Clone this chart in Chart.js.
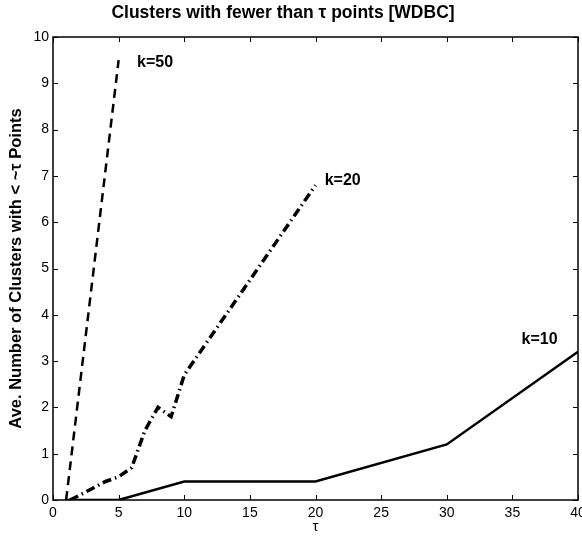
<!DOCTYPE html>
<html>
<head>
<meta charset="utf-8">
<script src="https://cdn.jsdelivr.net/npm/chart.js@4"></script>
<style>
  html, body { margin: 0; padding: 0; background: #fff; }
  #wrap { width: 582px; height: 536px; }
</style>
</head>
<body>
<div id="wrap"><canvas id="c" width="582" height="536"></canvas></div>
<script>
// tau values and average number of small clusters for each k
const tau10 = [1, 5, 10, 20, 30, 40];
const k10 = [0, 0, 0.4, 0.4, 1.2, 3.2];

const tau20 = [1.3, 2, 3, 4, 5, 6, 7, 8, 9, 10, 20];
const k20 = [0, 0.1, 0.25, 0.4, 0.5, 0.7, 1.5, 2.0, 1.8, 2.7, 6.8];

const tau50 = [1, 5];
const k50 = [0, 9.5];

const xTicks = [0, 5, 10, 15, 20, 25, 30, 35, 40];
const yTicks = [0, 1, 2, 3, 4, 5, 6, 7, 8, 9, 10];

// curve labels, placed in data coordinates
const curveLabels = ['k=50', 'k=20', 'k=10'];
const labelX = [6.4, 20.7, 35.7];
const labelY = [9.45, 6.9, 3.46];

const pts = (xs, ys) => xs.map((x, i) => ({ x, y: ys[i] }));

const FONT = '"Liberation Sans", Arial, Helvetica, sans-serif';

// MATLAB-style box, inward ticks, title and curve labels
const matlabBox = {
  id: 'matlabBox',
  afterDraw(ch) {
    const { ctx, chartArea: a, scales } = ch;
    const xs = scales.x, ys = scales.y;
    ctx.save();
    ctx.strokeStyle = '#000';
    ctx.lineWidth = 1.5;
    ctx.strokeRect(a.left, a.top, a.right - a.left, a.bottom - a.top);
    ctx.lineWidth = 1;
    ctx.beginPath();
    xTicks.forEach(v => {
      const px = Math.round(xs.getPixelForValue(v)) + 0.5;
      ctx.moveTo(px, a.bottom); ctx.lineTo(px, a.bottom - 5);
      ctx.moveTo(px, a.top); ctx.lineTo(px, a.top + 5);
    });
    yTicks.forEach(v => {
      const py = Math.round(ys.getPixelForValue(v)) + 0.5;
      ctx.moveTo(a.left, py); ctx.lineTo(a.left + 5, py);
      ctx.moveTo(a.right, py); ctx.lineTo(a.right - 5, py);
    });
    ctx.stroke();

    ctx.fillStyle = '#000';
    ctx.font = 'bold 17.5px ' + FONT;
    ctx.textAlign = 'center';
    ctx.textBaseline = 'middle';
    ctx.fillText('Clusters with fewer than \u03c4 points [WDBC]', 283, 13);

    ctx.font = 'bold 16px ' + FONT;
    ctx.textAlign = 'left';
    curveLabels.forEach((t, i) => {
      ctx.fillText(t, xs.getPixelForValue(labelX[i]), ys.getPixelForValue(labelY[i]));
    });
    ctx.restore();
  }
};

new Chart(document.getElementById('c'), {
  type: 'line',
  data: {
    datasets: [
      {
        label: 'k=10',
        data: pts(tau10, k10),
        borderColor: '#000',
        borderWidth: 2.5,
        pointRadius: 0,
        tension: 0,
      },
      {
        label: 'k=20',
        data: pts(tau20, k20),
        borderColor: '#000',
        borderWidth: 3.5,
        borderDash: [9, 4, 1.5, 4],
        pointRadius: 0,
        tension: 0,
      },
      {
        label: 'k=50',
        data: pts(tau50, k50),
        borderColor: '#000',
        borderWidth: 2.5,
        borderDash: [9, 6],
        pointRadius: 0,
        tension: 0,
      },
    ],
  },
  options: {
    responsive: false,
    animation: false,
    layout: { padding: { top: 37, right: 4, left: 0, bottom: 0 } },
    plugins: {
      legend: { display: false },
      tooltip: { enabled: false },
      title: { display: false },
    },
    scales: {
      x: {
        type: 'linear',
        min: 0,
        max: 40,
        afterBuildTicks: s => { s.ticks = xTicks.map(v => ({ value: v })); },
        afterFit: s => { s.height = 36; s.paddingRight = 0; s.paddingLeft = 0; },
        grid: { display: false, drawTicks: false },
        border: { display: false },
        ticks: { color: '#000', padding: 5, font: { size: 14, family: FONT } },
        title: {
          display: true,
          text: '\u03c4',
          color: '#000',
          font: { size: 15, family: FONT },
          padding: { top: 0, bottom: 0 },
        },
      },
      y: {
        type: 'linear',
        min: 0,
        max: 10,
        afterBuildTicks: s => { s.ticks = yTicks.map(v => ({ value: v })); },
        afterFit: s => { s.width = 53; },
        grid: { display: false, drawTicks: false },
        border: { display: false },
        ticks: { color: '#000', padding: 4, font: { size: 14, family: FONT } },
        title: {
          display: true,
          text: 'Ave. Number of Clusters with < ~\u03c4 Points',
          color: '#000',
          font: { size: 16.5, weight: 'bold', family: FONT },
          padding: { top: 7, bottom: 0 },
        },
      },
    },
  },
  plugins: [matlabBox],
});
</script>
</body>
</html>
